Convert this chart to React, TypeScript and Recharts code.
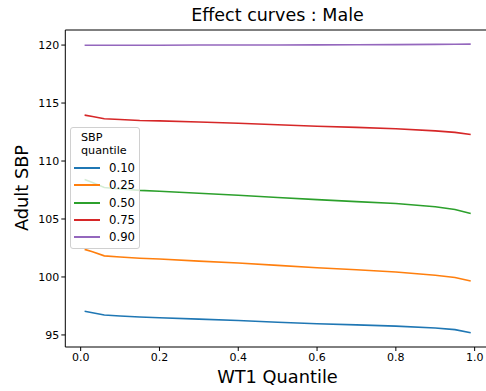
import { Line, LineChart, ReferenceLine, XAxis, YAxis } from "recharts";

// WT1 quantile grid the effect curves were read at
const WT1_Q = [0.01, 0.03, 0.06, 0.1, 0.15, 0.2, 0.3, 0.4, 0.5, 0.6, 0.7, 0.8, 0.9, 0.95, 0.99];

const SBP_Q10 = [97.05, 96.92, 96.72, 96.64, 96.55, 96.48, 96.36, 96.25, 96.1, 95.96, 95.87, 95.76, 95.6, 95.46, 95.19];
const SBP_Q25 = [102.38, 102.18, 101.82, 101.72, 101.62, 101.55, 101.37, 101.2, 101.0, 100.8, 100.62, 100.43, 100.15, 99.95, 99.65];
const SBP_Q50 = [108.4, 108.15, 107.72, 107.59, 107.47, 107.39, 107.22, 107.05, 106.86, 106.67, 106.5, 106.33, 106.05, 105.82, 105.47];
const SBP_Q75 = [113.96, 113.84, 113.65, 113.58, 113.5, 113.46, 113.36, 113.26, 113.13, 113.0, 112.9, 112.78, 112.6, 112.47, 112.29];
const SBP_Q90 = [119.98, 119.98, 119.98, 119.98, 119.99, 119.99, 120.0, 120.0, 120.01, 120.02, 120.03, 120.04, 120.06, 120.07, 120.08];

const QUANTILES = ["0.10", "0.25", "0.50", "0.75", "0.90"];
const X_TICKS = [0, 0.2, 0.4, 0.6, 0.8, 1.0];
const Y_TICKS = [95, 100, 105, 110, 115, 120];

// matplotlib tab10
const COLORS = ["#1f77b4", "#ff7f0e", "#2ca02c", "#d62728", "#9467bd"];
const SERIES = [SBP_Q10, SBP_Q25, SBP_Q50, SBP_Q75, SBP_Q90];

const data = WT1_Q.map((x, i) => {
  const row: Record<string, number> = { x };
  QUANTILES.forEach((q, k) => {
    row[q] = SERIES[k][i];
  });
  return row;
});

const FONT = "'DejaVu Sans', sans-serif";
const X_DOMAIN = [-0.039, 1.0288];
const Y_DOMAIN = [93.96, 121.3];
const tick = { fontSize: 11, fill: "#000", fontFamily: FONT };

function LegendBox() {
  return (
    <div
      style={{
        position: "absolute",
        left: 70,
        top: 127,
        width: 68,
        height: 120,
        background: "rgba(255,255,255,0.8)",
        border: "1px solid #d0d0d0",
        borderRadius: 3,
        fontFamily: FONT,
        fontSize: 11.2,
        color: "#000",
      }}
    >
      <div style={{ position: "absolute", left: 10, top: 3, lineHeight: "13px" }}>
        SBP
        <br />
        quantile
      </div>
      {QUANTILES.map((q, k) => (
        <div key={q} style={{ position: "absolute", left: 3, top: 33 + k * 17.3, height: 14, display: "flex", alignItems: "center" }}>
          <div style={{ width: 26, height: 2, background: COLORS[k] }} />
          <span style={{ marginLeft: 9, fontSize: 11.7 }}>{q}</span>
        </div>
      ))}
    </div>
  );
}

export default function App() {
  return (
    <div style={{ position: "absolute", left: 0, top: 0, width: 486, height: 391, background: "#fff", overflow: "hidden" }}>
      <LineChart width={486} height={391} data={data} margin={{ top: 30, right: 0, bottom: 0, left: 0 }}>
        <XAxis
          type="number"
          dataKey="x"
          domain={X_DOMAIN}
          ticks={X_TICKS}
          tickFormatter={(v: number) => v.toFixed(1)}
          allowDataOverflow
          height={44}
          stroke="#000"
          tickSize={4}
          tick={tick}
        />
        <YAxis
          type="number"
          domain={Y_DOMAIN}
          ticks={Y_TICKS}
          allowDataOverflow
          width={65.3}
          stroke="#000"
          tickSize={4}
          tick={tick}
        />
        <ReferenceLine y={Y_DOMAIN[1]} stroke="#000" />
        {QUANTILES.map((q, k) => (
          <Line
            key={q}
            type="linear"
            dataKey={q}
            stroke={COLORS[k]}
            strokeWidth={1.6}
            dot={false}
            isAnimationActive={false}
          />
        ))}
      </LineChart>
      <div
        style={{
          position: "absolute",
          left: 0,
          width: 555,
          top: 5,
          textAlign: "center",
          fontFamily: FONT,
          fontSize: 17.5,
        }}
      >
        Effect curves : Male
      </div>
      <div
        style={{
          position: "absolute",
          left: 0,
          width: 555,
          top: 366,
          textAlign: "center",
          fontFamily: FONT,
          fontSize: 17.8,
        }}
      >
        WT1 Quantile
      </div>
      <div
        style={{
          position: "absolute",
          left: 21,
          top: 188,
          transform: "translate(-50%, -50%) rotate(-90deg)",
          whiteSpace: "nowrap",
          fontFamily: FONT,
          fontSize: 17.8,
        }}
      >
        Adult SBP
      </div>
      <LegendBox />
    </div>
  );
}
